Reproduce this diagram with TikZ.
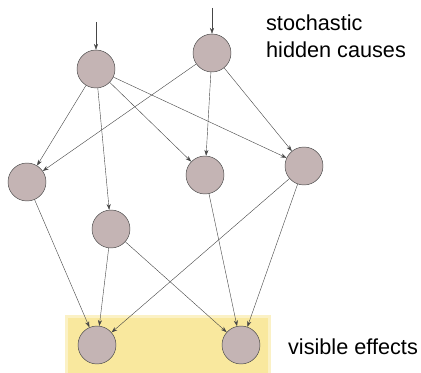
\documentclass[tikz,border=0pt]{standalone}
\usepackage{fontspec}
\setmainfont{Liberation Sans}
\usetikzlibrary{arrows.meta, positioning}
\definecolor{NodeRose}{RGB}{196,180,180}
\definecolor{EdgeGray}{RGB}{70,70,70}
\definecolor{EffectYellow}{RGB}{249,232,158}

\begin{document}
\begin{tikzpicture}[x=0.03cm, y=-0.03cm,
      var/.style={circle, fill=NodeRose, draw=EdgeGray, thin,
                  minimum size=1.14cm, inner sep=0pt},
      arr/.style={-{Stealth[length=5pt, width=3.5pt]}, EdgeGray, line width=0.35pt},
      lbl/.style={font=\fontsize{18.5}{23}\selectfont, align=left, anchor=west}
    ]
    \useasboundingbox (0,0) rectangle (421,373);

    % Effects band (soft edge)
    \fill[EffectYellow!60] (65,315) rectangle (271,373);
    \fill[EffectYellow] (68,318) rectangle (268,373);

    % Hidden causes
    \node[var] (hA) at (96,69) {};
    \node[var] (hB) at (212,53) {};
    \node[var] (hC) at (27,182) {};
    \node[var] (hD) at (205,175) {};
    \node[var] (hE) at (304,166) {};
    \node[var] (hF) at (111,229) {};

    % Visible effects
    \node[var] (vG) at (97,345) {};
    \node[var] (vH) at (241,345) {};

    % External inputs
    \coordinate (inA) at (96,22);
    \coordinate (inB) at (212,8);
    \draw[arr] (inA) -- (hA);
    \draw[arr] (inB) -- (hB);

    % Connections
    \foreach \s/\t in {hA/hC, hA/hF, hA/hD, hA/hE, hB/hC, hB/hD, hB/hE,
                       hC/vG, hF/vG, hF/vH, hD/vH, hE/vG, hE/vH} {
      \draw[arr] (\s) -- (\t);
    }

    % Labels
    \node[lbl] (tCause) at (262,36) {stochastic\\hidden causes};
    \node[lbl] (tEffect) at (284,347) {visible effects};
  \end{tikzpicture}
\end{document}
